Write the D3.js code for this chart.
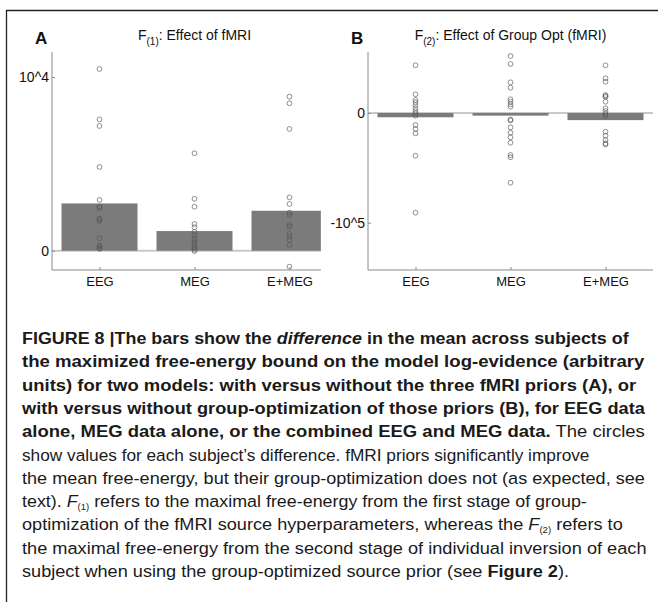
<!DOCTYPE html>
<html>
<head>
<meta charset="utf-8">
<script src="https://cdn.jsdelivr.net/npm/d3@7"></script>
<style>
  html, body { margin: 0; padding: 0; background: #fff; }
  svg { display: block; }
</style>
</head>
<body>
<script>
// ---------------- DATA ----------------
const categories = ["EEG", "MEG", "E+MEG"];

// Panel A: F(1) effect of fMRI (bar = difference in mean)
const barsA = [2720, 1130, 2300];
const subjA_EEG  = [10460, 7560, 7180, 4820, 2920, 2520, 2470, 1850, 1800, 1710, 710, 300, 250, 150, 110];
const subjA_MEG  = [5610, 2990, 2530, 1540, 1350, 1080, 900, 700, 560, 420, 300, 180, 60, -20];
const subjA_EMEG = [8870, 8490, 7010, 3070, 2690, 2190, 2060, 1480, 1380, 960, 810, 620, 330, -920];
const yTicksA = [0, 10000];
const yTickLabelsA = ["0", "10^4"];

// Panel B: F(2) effect of group optimisation
const barsB = [-3900, -2400, -6500];
const subjB_EEG  = [43480, 17050, 11850, 9750, 7290, 4280, 1820, -270, -2460, -10940, -14590, -18500, -38920, -90880];
const subjB_MEG  = [51960, 44670, 27990, 23060, 12490, 10300, 7930, 5740, -6000, -6700, -13040, -17960, -22150, -27070, -38290, -40380, -63540];
const subjB_EMEG = [43480, 31630, 28530, 16410, 15400, 14700, 10300, 4280, 1820, -640, -2460, -17050, -20690, -24610, -27620, -28700];
const yTicksB = [0, -100000];
const yTickLabelsB = ["0", "-10^5"];

// ---------------- DRAW ----------------
const W = 658, H = 602;
const FONT = "'Liberation Sans', Arial, Helvetica, sans-serif";
const svg = d3.select("body").append("svg").attr("width", W).attr("height", H);

// frame lines
svg.append("line").attr("x1", 6).attr("x2", W).attr("y1", 10.5).attr("y2", 10.5)
  .attr("stroke", "#222").attr("stroke-width", 1.3);
svg.append("line").attr("x1", 6.5).attr("x2", 6.5).attr("y1", 10).attr("y2", H)
  .attr("stroke", "#222").attr("stroke-width", 1.3);

function panel(cfg) {
  const g = svg.append("g");
  const x = d3.scaleLinear().domain([0.5, 3.5]).range([cfg.x0, cfg.x0 + 285]);
  const y = d3.scaleLinear().domain([0, cfg.yRefVal]).range([cfg.zeroY, cfg.refY]);
  const xEnd = x(cfg.xMax);
  const yTop = 52, yBot = 270;

  // zero line
  g.append("line").attr("x1", cfg.x0).attr("x2", xEnd)
    .attr("y1", y(0)).attr("y2", y(0))
    .attr("stroke", "#c9c9c9").attr("stroke-width", 2);

  // bars
  const bw = 0.8;
  g.selectAll("rect.bar").data(cfg.bars).join("rect").attr("class", "bar")
    .attr("x", (d, i) => x(i + 1 - bw / 2))
    .attr("width", (d, i) => Math.min(x(i + 1 + bw / 2), xEnd) - x(i + 1 - bw / 2))
    .attr("y", d => Math.min(y(d), y(0)))
    .attr("height", d => Math.abs(y(d) - y(0)))
    .attr("fill", "#7b7b7b");

  // subject circles
  cfg.subjects.forEach((arr, i) => {
    g.selectAll(null).data(arr).join("circle")
      .attr("cx", x(i + 1)).attr("cy", d => y(d)).attr("r", 2.4)
      .attr("fill", "none").attr("stroke", "#555").attr("stroke-width", 0.65);
  });

  // axes lines
  g.append("line").attr("x1", cfg.x0).attr("x2", cfg.x0).attr("y1", yTop).attr("y2", yBot)
    .attr("stroke", "#8a8a8a").attr("stroke-width", 1);
  g.append("line").attr("x1", cfg.x0).attr("x2", xEnd).attr("y1", yBot).attr("y2", yBot)
    .attr("stroke", "#8a8a8a").attr("stroke-width", 1);

  // x axis ticks/labels
  const xa = g.append("g").attr("transform", `translate(0,${yBot})`)
    .call(d3.axisBottom(x).tickValues([1, 2, 3]).tickFormat(i => categories[i - 1])
      .tickSizeInner(-3).tickSizeOuter(0).tickPadding(7));
  xa.select(".domain").remove();
  xa.selectAll("line").attr("stroke", "#8a8a8a");
  xa.selectAll("text").attr("font-family", FONT).attr("font-size", 13).attr("fill", "#111");

  // y axis ticks/labels
  const ya = g.append("g").attr("transform", `translate(${cfg.x0},0)`)
    .call(d3.axisLeft(y).tickValues(cfg.yTicks).tickFormat((d, i) => cfg.yLabels[i])
      .tickSizeInner(-3).tickSizeOuter(0).tickPadding(3));
  ya.select(".domain").remove();
  ya.selectAll("line").attr("stroke", "#8a8a8a");
  ya.selectAll("text").attr("font-family", FONT).attr("font-size", 14).attr("fill", "#111");

  // panel letter
  g.append("text").attr("x", cfg.x0 - 17).attr("y", 44).text(cfg.letter)
    .attr("font-family", FONT).attr("font-weight", "bold").attr("font-size", 17).attr("fill", "#111");

  // title with subscript
  const t = g.append("text").attr("x", (cfg.x0 + x(3.5)) / 2).attr("y", 40)
    .attr("text-anchor", "middle").attr("font-family", FONT).attr("font-size", 14).attr("fill", "#111");
  t.append("tspan").text("F");
  t.append("tspan").attr("font-size", 10).attr("dy", 5).text(cfg.sub);
  t.append("tspan").attr("dy", -5).text(cfg.title);
}

panel({
  letter: "A", x0: 52, xMax: 3.33, zeroY: 250.7, refY: 77, yRefVal: 10000,
  bars: barsA, subjects: [subjA_EEG, subjA_MEG, subjA_EMEG],
  yTicks: yTicksA, yLabels: yTickLabelsA, sub: "(1)", title: ": Effect of fMRI"
});
panel({
  letter: "B", x0: 368, xMax: 3.5, zeroY: 113, refY: 222.7, yRefVal: -100000,
  bars: barsB, subjects: [subjB_EEG, subjB_MEG, subjB_EMEG],
  yTicks: yTicksB, yLabels: yTickLabelsB, sub: "(2)", title: ": Effect of Group Opt (fMRI)"
});

// ---------------- CAPTION ----------------
const B = "bold", N = "normal";
const captionLines = [
  { end: 629, segs: [["FIGURE 8 |The bars show the ", B], ["difference", B, "italic"], [" in the mean across subjects of", B]] },
  { end: 645, segs: [["the maximized free-energy bound on the model log-evidence (arbitrary", B]] },
  { end: 637, segs: [["units) for two models: with versus without the three fMRI priors (A), or", B]] },
  { end: 645, segs: [["with versus without group-optimization of those priors (B), for EEG data", B]] },
  { end: 645, segs: [["alone, MEG data alone, or the combined EEG and MEG data.", B], [" The circles", N]] },
  { end: 590, segs: [["show values for each subject\u2019s difference. fMRI priors significantly improve", N]] },
  { end: 645, segs: [["the mean free-energy, but their group-optimization does not (as expected, see", N]] },
  { end: 587, segs: [["text). ", N], ["F", N, "italic"], ["(1)", N, null, "sub"], [" refers to the maximal free-energy from the first stage of group-", N]] },
  { end: 623, segs: [["optimization of the fMRI source hyperparameters, whereas the ", N], ["F", N, "italic"], ["(2)", N, null, "sub"], [" refers to", N]] },
  { end: 647, segs: [["the maximal free-energy from the second stage of individual inversion of each", N]] },
  { end: null, segs: [["subject when using the group-optimized source prior (see ", N], ["Figure 2", B], [").", N]] }
];
const capX = 22, capY0 = 344, capDY = 23.3;
const capItems = captionLines.map((ln, li) => {
  const g = svg.append("g");
  const t = g.append("text").attr("x", 0).attr("y", 0)
    .attr("font-family", FONT).attr("font-size", 17).attr("fill", "#1a1a1a");
  let shifted = 0;
  ln.segs.forEach(s => {
    const ts = t.append("tspan").text(s[0]).attr("font-weight", s[1] === B ? "bold" : "normal");
    if (s[2] === "italic") ts.attr("font-style", "italic");
    if (s[3] === "sub") { ts.attr("font-size", 9).attr("dy", 3); shifted = 3; }
    else if (shifted) { ts.attr("dy", -shifted); shifted = 0; }
  });
  return { g, li, ln, natural: t.node().getComputedTextLength() };
});
// normal-text condensing factor from full-width regular lines, used for the last line
const sxNorm = d3.median(capItems.filter(d => d.li > 4 && d.ln.end && d.ln.end >= 640)
  .map(d => (d.ln.end - capX) / d.natural));
capItems.forEach(d => {
  const sx = d.ln.end ? (d.ln.end - capX) / d.natural : sxNorm;
  d.g.attr("transform", `translate(${capX},${capY0 + d.li * capDY}) scale(${sx},1)`);
});
</script>
</body>
</html>
